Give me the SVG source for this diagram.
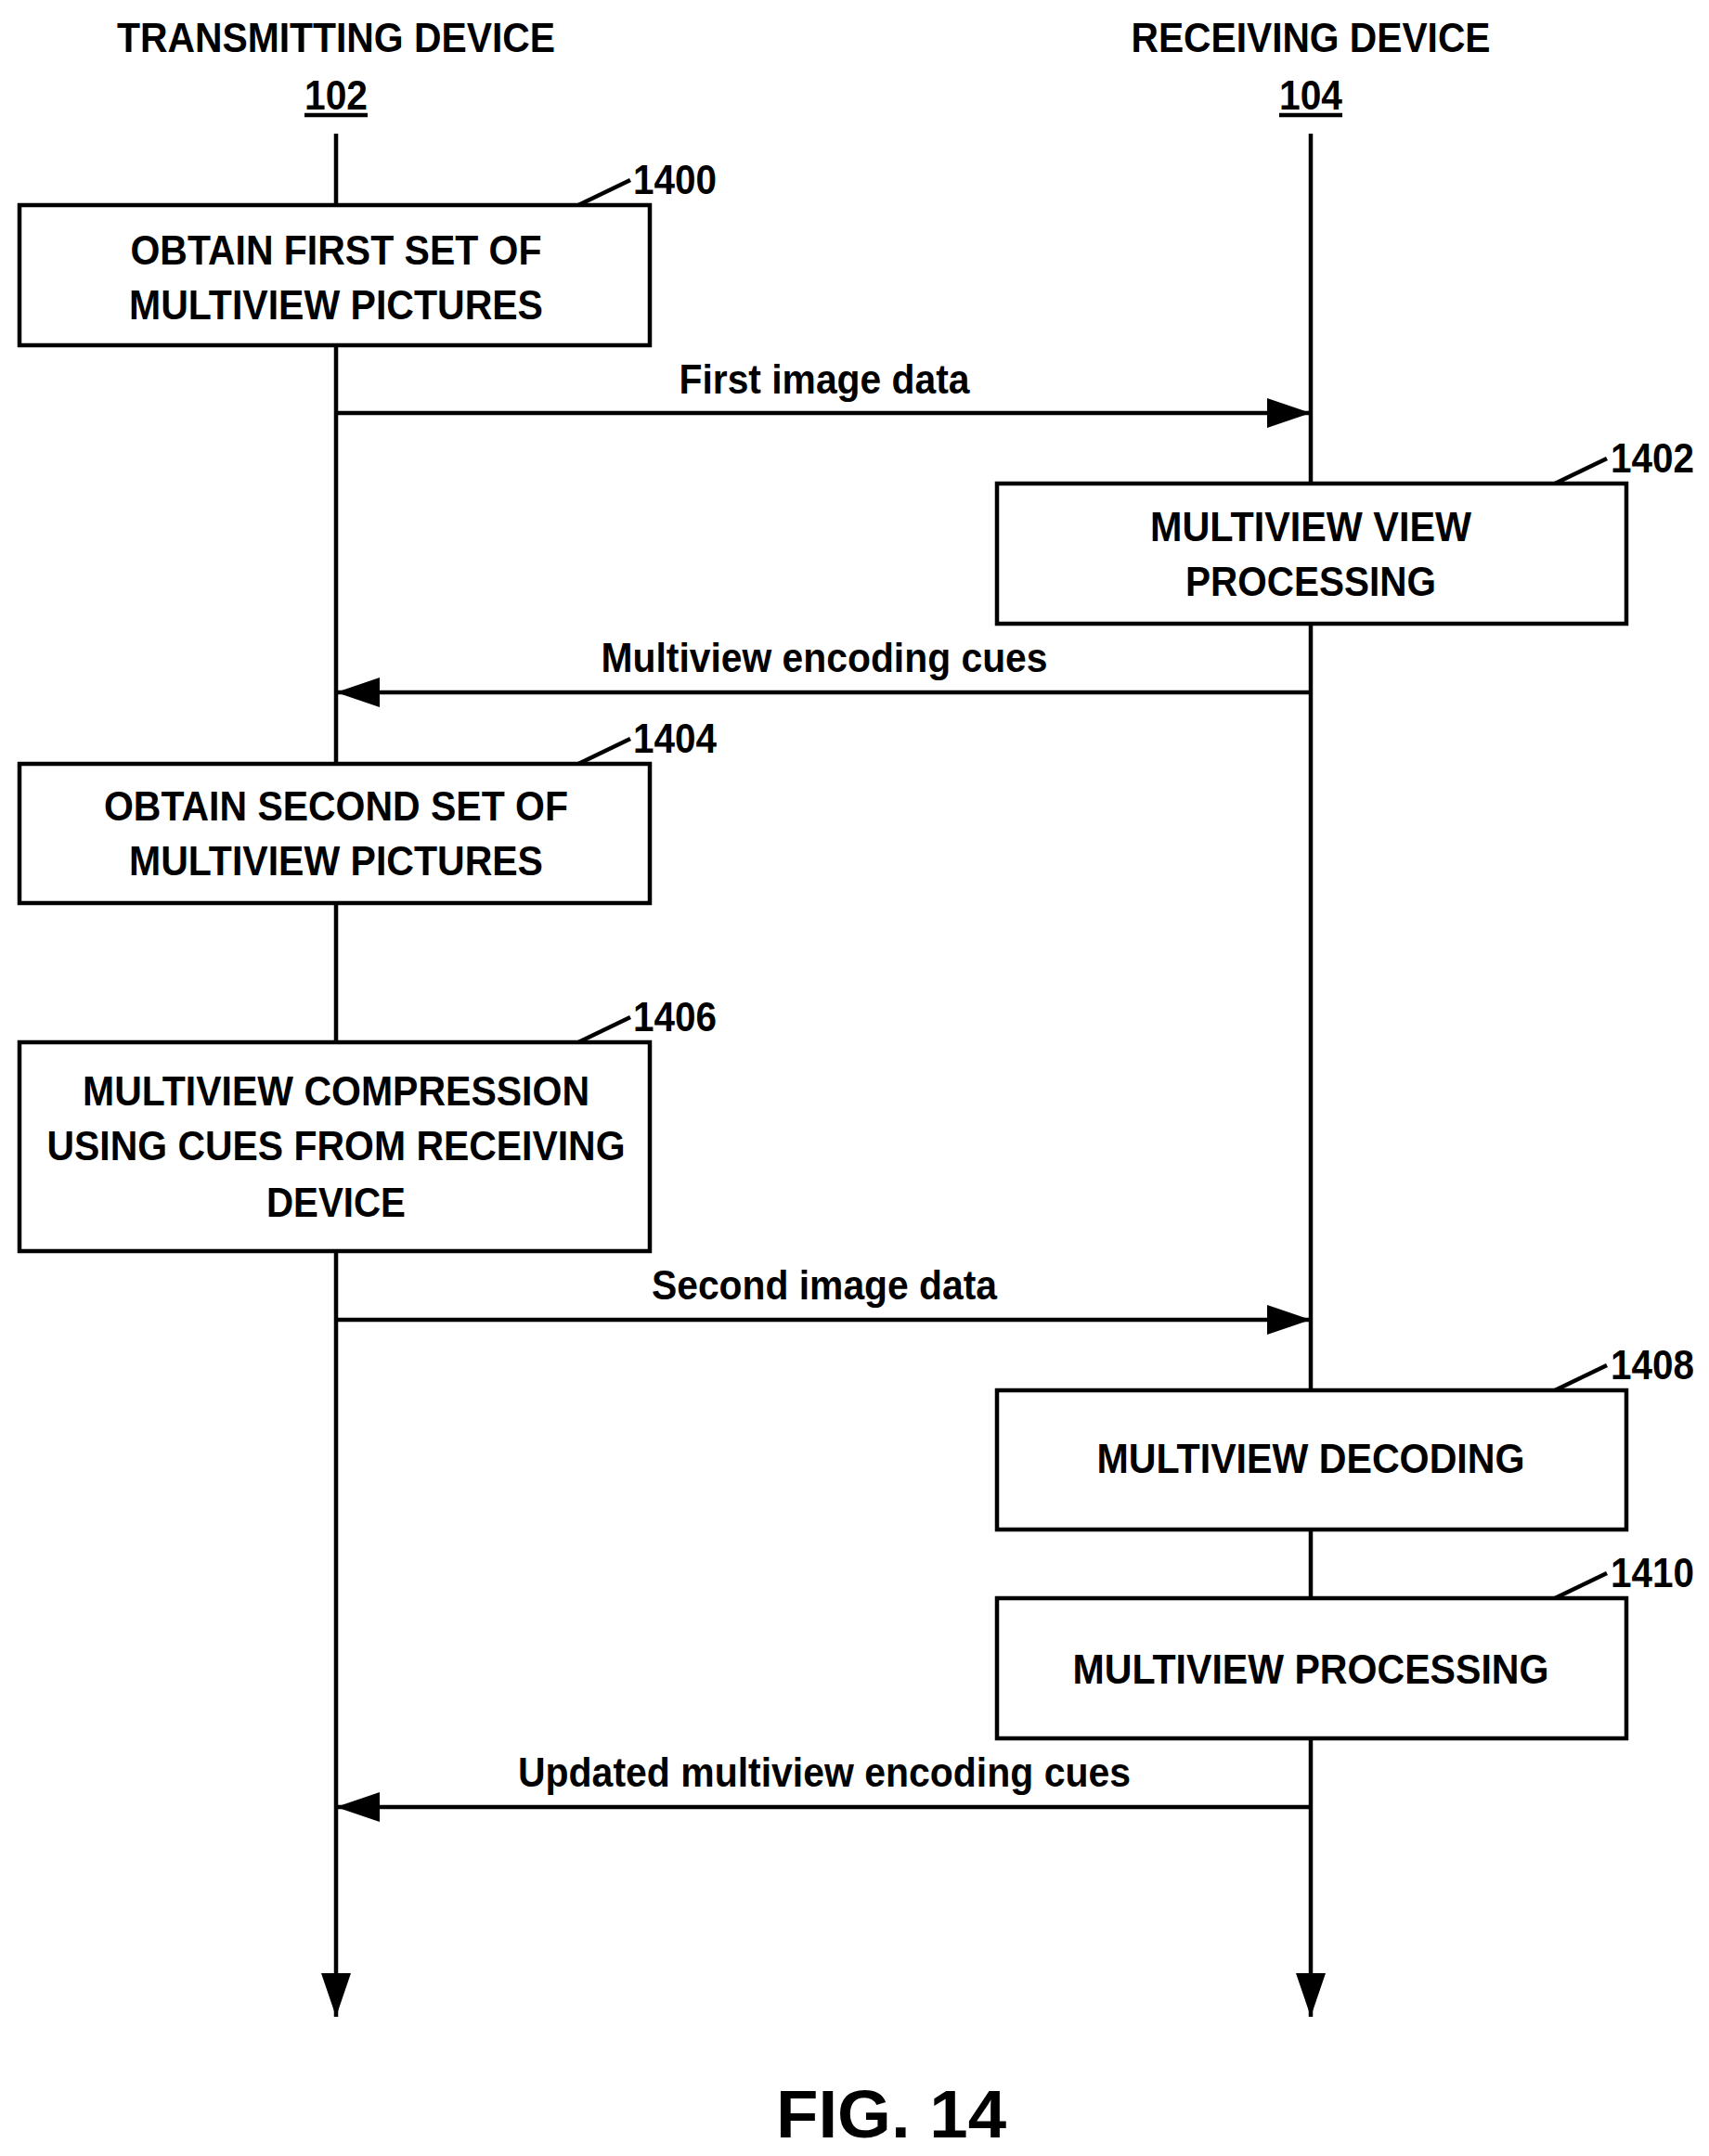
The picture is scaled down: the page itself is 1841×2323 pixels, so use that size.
<svg xmlns="http://www.w3.org/2000/svg" width="1841" height="2323" viewBox="0 0 1841 2323">
<style>
text{font-family:"Liberation Sans",Arial,sans-serif;font-weight:bold;font-size:44px;fill:#000;text-anchor:middle}
.box{fill:#fff;stroke:#000;stroke-width:4.5}
.ln{stroke:#000;stroke-width:4.5;fill:none}
.ref{text-anchor:start}
</style>
<defs>
<marker id="ah" markerUnits="userSpaceOnUse" markerWidth="48" markerHeight="32" refX="47" refY="16" orient="auto"><path d="M0,0 L47,16 L0,32 Z" fill="#000"/></marker>
</defs>
<g id="headers">
<text x="362" y="56" textLength="472" lengthAdjust="spacingAndGlyphs">TRANSMITTING DEVICE</text>
<text x="362" y="118" textLength="68" lengthAdjust="spacingAndGlyphs">102</text>
<line class="ln" x1="328" y1="124" x2="396" y2="124"/>
<text x="1412" y="56" textLength="387" lengthAdjust="spacingAndGlyphs">RECEIVING DEVICE</text>
<text x="1412" y="118" textLength="68" lengthAdjust="spacingAndGlyphs">104</text>
<line class="ln" x1="1378" y1="124" x2="1446" y2="124"/>
</g>
<g id="connectors">
<line class="ln" x1="362" y1="144" x2="362" y2="2173" marker-end="url(#ah)"/>
<line class="ln" x1="1412" y1="144" x2="1412" y2="2173" marker-end="url(#ah)"/>
<line class="ln" x1="362" y1="445" x2="1412" y2="445" marker-end="url(#ah)"/>
<text x="888" y="424" textLength="313" lengthAdjust="spacingAndGlyphs">First image data</text>
<line class="ln" x1="1412" y1="746" x2="362" y2="746" marker-end="url(#ah)"/>
<text x="888" y="724" textLength="481" lengthAdjust="spacingAndGlyphs">Multiview encoding cues</text>
<line class="ln" x1="362" y1="1422" x2="1412" y2="1422" marker-end="url(#ah)"/>
<text x="888" y="1400" textLength="372" lengthAdjust="spacingAndGlyphs">Second image data</text>
<line class="ln" x1="1412" y1="1947" x2="362" y2="1947" marker-end="url(#ah)"/>
<text x="888" y="1925" textLength="660" lengthAdjust="spacingAndGlyphs">Updated multiview encoding cues</text>
</g>
<g id="n1400">
<rect class="box" x="21" y="221" width="679" height="151"/>
<text x="362" y="285" textLength="443" lengthAdjust="spacingAndGlyphs">OBTAIN FIRST SET OF</text>
<text x="362" y="344" textLength="446" lengthAdjust="spacingAndGlyphs">MULTIVIEW PICTURES</text>
<line class="ln" x1="623" y1="221" x2="679" y2="194"/>
<text class="ref" x="682" y="209" textLength="90" lengthAdjust="spacingAndGlyphs">1400</text>
</g>
<g id="n1402">
<rect class="box" x="1074" y="521" width="678" height="151"/>
<text x="1412" y="583" textLength="346" lengthAdjust="spacingAndGlyphs">MULTIVIEW VIEW</text>
<text x="1412" y="642" textLength="270" lengthAdjust="spacingAndGlyphs">PROCESSING</text>
<line class="ln" x1="1675" y1="521" x2="1731" y2="494"/>
<text class="ref" x="1735" y="509" textLength="90" lengthAdjust="spacingAndGlyphs">1402</text>
</g>
<g id="n1404">
<rect class="box" x="21" y="823" width="679" height="150"/>
<text x="362" y="884" textLength="500" lengthAdjust="spacingAndGlyphs">OBTAIN SECOND SET OF</text>
<text x="362" y="943" textLength="446" lengthAdjust="spacingAndGlyphs">MULTIVIEW PICTURES</text>
<line class="ln" x1="623" y1="823" x2="679" y2="796"/>
<text class="ref" x="682" y="811" textLength="90" lengthAdjust="spacingAndGlyphs">1404</text>
</g>
<g id="n1406">
<rect class="box" x="21" y="1123" width="679" height="225"/>
<text x="362" y="1191" textLength="546" lengthAdjust="spacingAndGlyphs">MULTIVIEW COMPRESSION</text>
<text x="362" y="1250" textLength="623" lengthAdjust="spacingAndGlyphs">USING CUES FROM RECEIVING</text>
<text x="362" y="1311" textLength="150" lengthAdjust="spacingAndGlyphs">DEVICE</text>
<line class="ln" x1="623" y1="1123" x2="679" y2="1096"/>
<text class="ref" x="682" y="1111" textLength="90" lengthAdjust="spacingAndGlyphs">1406</text>
</g>
<g id="n1408">
<rect class="box" x="1074" y="1498" width="678" height="150"/>
<text x="1412" y="1587" textLength="461" lengthAdjust="spacingAndGlyphs">MULTIVIEW DECODING</text>
<line class="ln" x1="1675" y1="1498" x2="1731" y2="1471"/>
<text class="ref" x="1735" y="1486" textLength="90" lengthAdjust="spacingAndGlyphs">1408</text>
</g>
<g id="n1410">
<rect class="box" x="1074" y="1722" width="678" height="151"/>
<text x="1412" y="1814" textLength="513" lengthAdjust="spacingAndGlyphs">MULTIVIEW PROCESSING</text>
<line class="ln" x1="1675" y1="1722" x2="1731" y2="1695"/>
<text class="ref" x="1735" y="1710" textLength="90" lengthAdjust="spacingAndGlyphs">1410</text>
</g>
<text x="960" y="2303" style="font-size:72px" textLength="248" lengthAdjust="spacingAndGlyphs">FIG. 14</text>
</svg>
